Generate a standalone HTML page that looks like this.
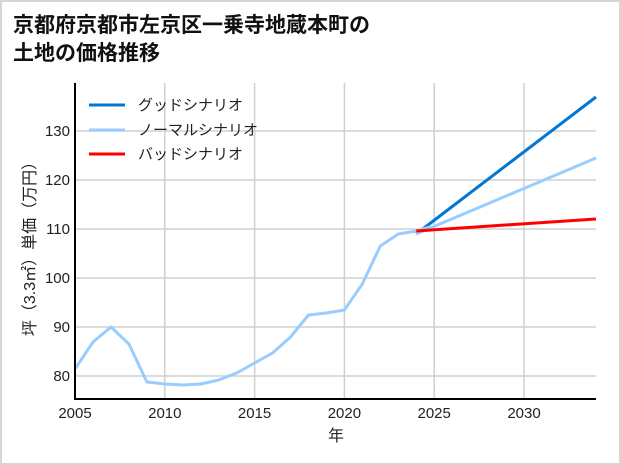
<!DOCTYPE html>
<html><head><meta charset="utf-8"><style>
html,body{margin:0;padding:0;background:#fff}
svg{display:block}
text{font-family:"Liberation Sans","Noto Sans CJK JP",sans-serif}
</style></head><body>
<svg width="621" height="465" viewBox="0 0 621 465">
<rect x="1" y="1" width="619" height="463" fill="#fff" stroke="#d6d6d6" stroke-width="2"/>
<text x="13" y="32" font-size="21" font-weight="bold" fill="#111">京都府京都市左京区一乗寺地蔵本町の</text>
<text x="13" y="60" font-size="21" font-weight="bold" fill="#111">土地の価格推移</text>
<g stroke="#d0d0d0" stroke-width="1.5">
<line x1="75" y1="376" x2="596" y2="376"/><line x1="75" y1="327" x2="596" y2="327"/>
<line x1="75" y1="278" x2="596" y2="278"/><line x1="75" y1="229" x2="596" y2="229"/>
<line x1="75" y1="180" x2="596" y2="180"/><line x1="75" y1="131" x2="596" y2="131"/>
<line x1="164.8" y1="83" x2="164.8" y2="399"/><line x1="254.6" y1="83" x2="254.6" y2="399"/>
<line x1="344.4" y1="83" x2="344.4" y2="399"/><line x1="434.2" y1="83" x2="434.2" y2="399"/>
<line x1="524" y1="83" x2="524" y2="399"/>
</g>
<g font-size="15" fill="#222" text-anchor="end">
<text x="70" y="381">80</text><text x="70" y="332">90</text><text x="70" y="283">100</text>
<text x="70" y="234">110</text><text x="70" y="185">120</text><text x="70" y="136">130</text>
</g>
<g font-size="15" fill="#222" text-anchor="middle">
<text x="75" y="418">2005</text><text x="164.8" y="418">2010</text><text x="254.6" y="418">2015</text>
<text x="344.4" y="418">2020</text><text x="434.2" y="418">2025</text><text x="524" y="418">2030</text>
<text x="336" y="441" font-size="16">年</text>
</g>
<text transform="translate(35,245) rotate(-90)" font-size="16" fill="#222" text-anchor="middle">坪（3.3㎡）単価（万円）</text>
<polyline fill="none" stroke="#0077d4" stroke-width="3" points="416.2,234 596,97"/>
<polyline fill="none" stroke="#99ccff" stroke-width="3" points="416.2,234 596,158"/>
<polyline fill="none" stroke="#99ccff" stroke-width="3" stroke-linejoin="round" points="75,369 93,342 111,327 128.9,344 146.9,382 164.8,384 182.8,385 200.7,384 218.7,380 236.6,373 254.6,363 272.6,353 290.5,337 308.5,315 326.4,313 344.4,310 362.3,284 380.3,246 398.2,234 416.2,231 430,227"/>
<polyline fill="none" stroke="#ff0000" stroke-width="3" points="416.2,231 596,219"/>
<line x1="75" y1="83" x2="75" y2="400" stroke="#000" stroke-width="2"/>
<line x1="74" y1="399" x2="596" y2="399" stroke="#000" stroke-width="2"/>
<g font-size="15" fill="#222">
<line x1="89" y1="105" x2="125" y2="105" stroke="#0077d4" stroke-width="3"/><text x="138" y="110">グッドシナリオ</text>
<line x1="89" y1="130" x2="125" y2="130" stroke="#99ccff" stroke-width="3"/><text x="138" y="135">ノーマルシナリオ</text>
<line x1="89" y1="154" x2="125" y2="154" stroke="#ff0000" stroke-width="3"/><text x="138" y="159">バッドシナリオ</text>
</g>
</svg>
</body></html>
